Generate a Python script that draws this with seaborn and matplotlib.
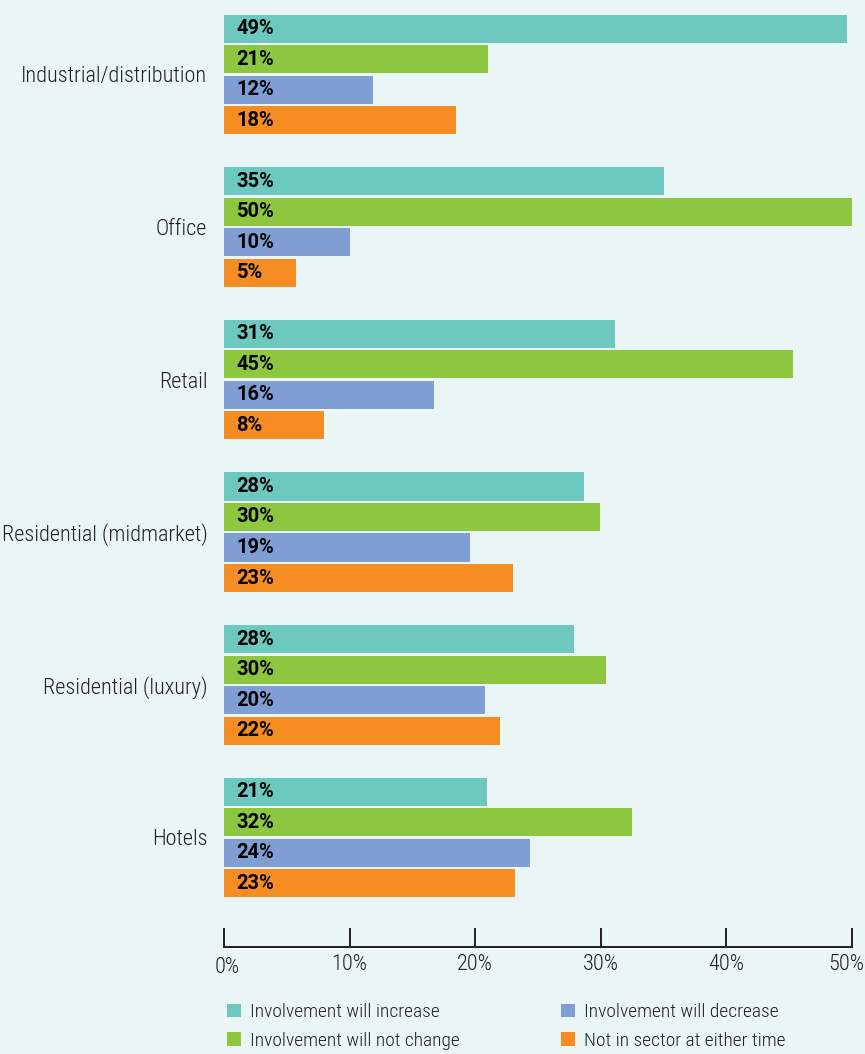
import seaborn as sns
import pandas as pd
import matplotlib.pyplot as plt
import matplotlib.transforms as mtrans
from matplotlib.patches import Patch
from matplotlib.ticker import FuncFormatter

# Sectors and series
sectors = ["Industrial/distribution", "Office", "Retail",
           "Residential (midmarket)", "Residential (luxury)", "Hotels"]
series = ["Involvement will increase", "Involvement will not change",
          "Involvement will decrease", "Not in sector at either time"]

# Bar lengths (%) as drawn, and the printed labels
increase = [49.6, 35.0, 31.1, 28.7, 27.9, 20.9]
no_change = [21.0, 50.3, 45.3, 29.9, 30.4, 32.5]
decrease = [11.9, 10.0, 16.7, 19.6, 20.8, 24.4]
not_in = [18.5, 5.7, 8.0, 23.0, 22.0, 23.2]

increase_lbl = [49, 35, 31, 28, 28, 21]
no_change_lbl = [21, 50, 45, 30, 30, 32]
decrease_lbl = [12, 10, 16, 19, 20, 24]
not_in_lbl = [18, 5, 8, 23, 22, 23]

colors = ["#6DC8BF", "#8DC63F", "#7F9FD4", "#F68D22"]
bg = "#EAF5F5"
ink = "#231F20"

rows = []
for name, vals, lbls in zip(series,
                            [increase, no_change, decrease, not_in],
                            [increase_lbl, no_change_lbl, decrease_lbl, not_in_lbl]):
    for s, v, l in zip(sectors, vals, lbls):
        rows.append({"Sector": s, "Series": name, "Value": v, "Label": l})
df = pd.DataFrame(rows)

# condensed face, close to the original's grotesque
plt.rcParams["font.family"] = ["Roboto Condensed", "DejaVu Sans"]
plt.rcParams["font.weight"] = 300

fig = plt.figure(figsize=(8.65, 10.54), dpi=100, facecolor=bg)
ax = fig.add_axes([224 / 865, 1 - 947 / 1054, 628 / 865, 947 / 1054])
ax.set_facecolor(bg)

sns.barplot(data=df, y="Sector", x="Value", hue="Series", orient="h",
            palette=colors, width=0.8, gap=0.08, ax=ax, legend=False,
            saturation=1, errorbar=None)

# Labels inside bars, at the left end
for cont, name in zip(ax.containers, series):
    lbls = df[df["Series"] == name]["Label"].tolist()
    for bar, l in zip(cont.patches, lbls):
        ax.text(1.0, bar.get_y() + bar.get_height() / 2, f"{l}%",
                ha="left", va="center", fontsize=14.5, fontweight="bold",
                family=["Roboto", "DejaVu Sans"], color="black")

ax.set_xlim(0, 50)
ax.set_ylim(5.718, -0.488)
ax.set_xlabel("")
ax.set_ylabel("")
ax.xaxis.set_major_formatter(FuncFormatter(lambda v, p: f"{v:.0f}%"))
ax.set_xticks([0, 10, 20, 30, 40, 50])
ax.tick_params(axis="x", direction="in", length=14, width=1.4, labelsize=16,
               pad=5, colors=ink)
ax.tick_params(axis="y", length=0, labelsize=16, pad=12, labelcolor=ink)
for sp in ["top", "right", "left"]:
    ax.spines[sp].set_visible(False)
ax.spines["bottom"].set_color(ink)
ax.spines["bottom"].set_linewidth(1.4)

# end tick labels are nudged in the original
labs = ax.get_xticklabels()
labs[-1].set_transform(labs[-1].get_transform() +
                       mtrans.ScaledTranslation(-6 / 100, 0, fig.dpi_scale_trans))
labs[0].set_transform(labs[0].get_transform() +
                      mtrans.ScaledTranslation(3 / 100, -3 / 100, fig.dpi_scale_trans))

handles = [Patch(facecolor=c, label=n) for c, n in zip(colors, series)]
for hs, x0 in [(handles[:2], 226), (handles[2:], 560)]:
    fig.legend(handles=hs, loc="lower left",
               bbox_to_anchor=(x0 / 865, 3 / 1054), frameon=False, fontsize=14,
               handlelength=0.72, handleheight=0.72, handletextpad=0.45,
               borderpad=0.05, borderaxespad=0, labelspacing=0.55,
               labelcolor=ink)

fig.savefig("out.png", dpi=100, facecolor=bg)
